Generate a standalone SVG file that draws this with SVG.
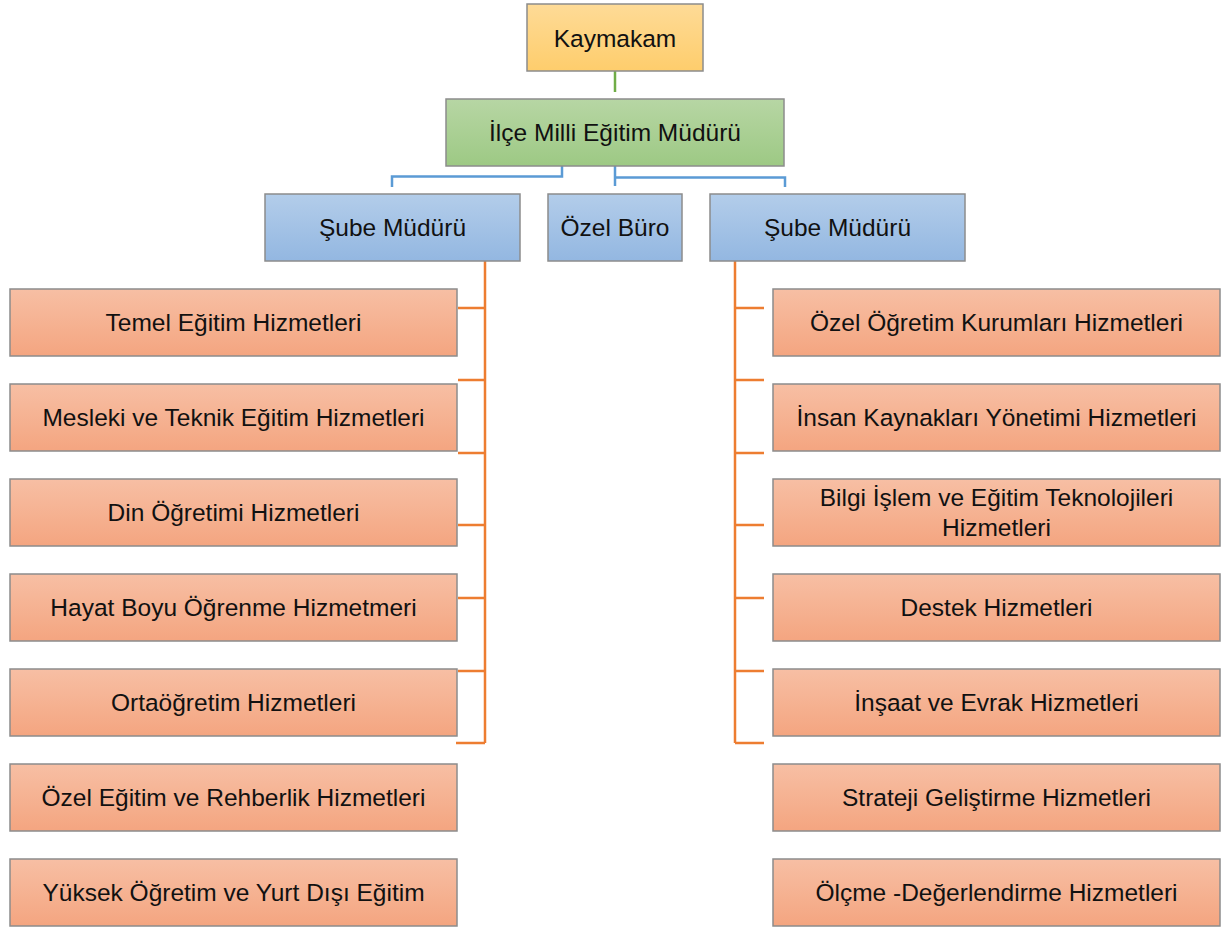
<svg xmlns="http://www.w3.org/2000/svg" width="1226" height="927" viewBox="0 0 1226 927">
<style>
  text { font-family: "Liberation Sans", Arial, sans-serif; font-size: 24.5px; fill: #111; text-anchor: middle; dominant-baseline: central; }
  .box { stroke: #8c8c8c; stroke-width: 1.5; }
  .gold { fill: url(#gGold); }
  .green { fill: url(#gGreen); }
  .blue { fill: url(#gBlue); }
  .orange { fill: url(#gOrange); }
  .cg { stroke: #70ad47; stroke-width: 2.5; fill: none; }
  .cb { stroke: #5b9bd5; stroke-width: 2.5; fill: none; }
  .co { stroke: #ed7d31; stroke-width: 2.5; fill: none; }
</style>
<defs>
  <linearGradient id="gGold" x1="0" y1="0" x2="0" y2="1"><stop offset="0" stop-color="#fedb97"/><stop offset="1" stop-color="#fecd6c"/></linearGradient>
  <linearGradient id="gGreen" x1="0" y1="0" x2="0" y2="1"><stop offset="0" stop-color="#b7d6a4"/><stop offset="1" stop-color="#9dc984"/></linearGradient>
  <linearGradient id="gBlue" x1="0" y1="0" x2="0" y2="1"><stop offset="0" stop-color="#b3cdea"/><stop offset="1" stop-color="#93b7e1"/></linearGradient>
  <linearGradient id="gOrange" x1="0" y1="0" x2="0" y2="1"><stop offset="0" stop-color="#f7bfa4"/><stop offset="1" stop-color="#f4a580"/></linearGradient>
</defs>
<g id="connectors">
  <path class="cg" d="M615 71 V92"/>
  <path class="cb" d="M562 166 V176.5 H392 V187"/>
  <path class="cb" d="M615 166 V186 M615 177.5 H785 V187"/>
  <path class="co" d="M485 261 V743 M458 308 H485 M458 380 H485 M458 453 H485 M458 525 H485 M458 598 H485 M458 671 H485 M456 743 H485"/>
  <path class="co" d="M735 261 V743 M735 308 H764 M735 380 H764 M735 453 H764 M735 525 H764 M735 598 H764 M735 671 H764 M735 743 H764"/>
</g>
<g id="kaymakam"><rect class="box gold" x="527" y="4" width="176" height="67"/><text x="615" y="38">Kaymakam</text></g>
<g id="ilce"><rect class="box green" x="446" y="99" width="338" height="67"/><text x="615" y="132">İlçe Milli Eğitim Müdürü</text></g>
<g id="sube1"><rect class="box blue" x="265" y="194" width="255" height="67"/><text x="392.5" y="227">Şube Müdürü</text></g>
<g id="ozelburo"><rect class="box blue" x="548" y="194" width="134" height="67"/><text x="615" y="227">Özel Büro</text></g>
<g id="sube2"><rect class="box blue" x="710" y="194" width="255" height="67"/><text x="837.5" y="227">Şube Müdürü</text></g>
<g id="l1"><rect class="box orange" x="10" y="289" width="447" height="67"/><text x="233.5" y="322.5">Temel Eğitim Hizmetleri</text></g>
<g id="l2"><rect class="box orange" x="10" y="384" width="447" height="67"/><text x="233.5" y="417.5">Mesleki ve Teknik Eğitim Hizmetleri</text></g>
<g id="l3"><rect class="box orange" x="10" y="479" width="447" height="67"/><text x="233.5" y="512.5">Din Öğretimi Hizmetleri</text></g>
<g id="l4"><rect class="box orange" x="10" y="574" width="447" height="67"/><text x="233.5" y="607.5">Hayat Boyu Öğrenme Hizmetmeri</text></g>
<g id="l5"><rect class="box orange" x="10" y="669" width="447" height="67"/><text x="233.5" y="702.5">Ortaöğretim Hizmetleri</text></g>
<g id="l6"><rect class="box orange" x="10" y="764" width="447" height="67"/><text x="233.5" y="797.5">Özel Eğitim ve Rehberlik Hizmetleri</text></g>
<g id="l7"><rect class="box orange" x="10" y="859" width="447" height="67"/><text x="233.5" y="892.5">Yüksek Öğretim ve Yurt Dışı Eğitim</text></g>
<g id="r1"><rect class="box orange" x="773" y="289" width="447" height="67"/><text x="996.5" y="322.5">Özel Öğretim Kurumları Hizmetleri</text></g>
<g id="r2"><rect class="box orange" x="773" y="384" width="447" height="67"/><text x="996.5" y="417.5">İnsan Kaynakları Yönetimi Hizmetleri</text></g>
<g id="r3"><rect class="box orange" x="773" y="479" width="447" height="67"/><text x="996.5" y="497.5">Bilgi İşlem ve Eğitim Teknolojileri</text><text x="996.5" y="527">Hizmetleri</text></g>
<g id="r4"><rect class="box orange" x="773" y="574" width="447" height="67"/><text x="996.5" y="607.5">Destek Hizmetleri</text></g>
<g id="r5"><rect class="box orange" x="773" y="669" width="447" height="67"/><text x="996.5" y="702.5">İnşaat ve Evrak Hizmetleri</text></g>
<g id="r6"><rect class="box orange" x="773" y="764" width="447" height="67"/><text x="996.5" y="797.5">Strateji Geliştirme Hizmetleri</text></g>
<g id="r7"><rect class="box orange" x="773" y="859" width="447" height="67"/><text x="996.5" y="892.5">Ölçme -Değerlendirme Hizmetleri</text></g>
</svg>
